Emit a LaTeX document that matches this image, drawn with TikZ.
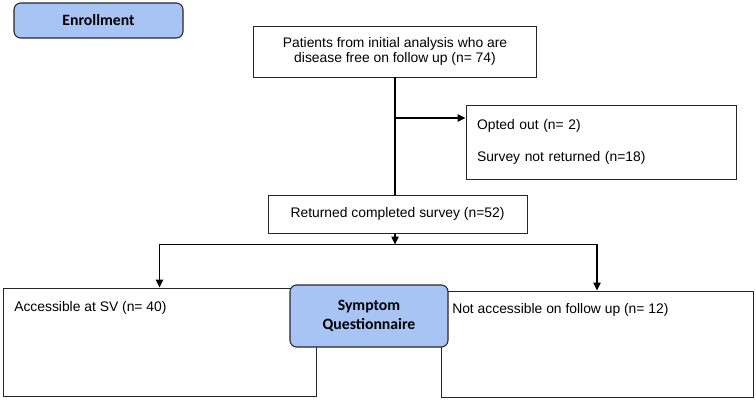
\documentclass[tikz,border=0pt]{standalone}
\usepackage{fontspec}
\setmainfont{Liberation Sans}
\newfontfamily\calibri{Carlito}
\usetikzlibrary{arrows.meta}
\definecolor{headblue}{RGB}{168,196,245}

\begin{document}
\begin{tikzpicture}[x=0.75pt,y=-0.75pt,
		box/.style={draw=black!85,line width=0.7pt,fill=white,inner sep=0pt,font=\fontsize{10.4}{11.8}\selectfont,align=center},
		head/.style={draw=black!85,line width=0.8pt,fill=headblue,rounded corners=5pt,inner sep=0pt,font=\calibri\bfseries\fontsize{11.8}{14}\selectfont,align=center},
		txt/.style={inner sep=0pt,font=\fontsize{10.4}{11.8}\selectfont},
		link/.style={line width=1pt},
		arr/.style={line width=1pt,-{Triangle[length=6pt,width=5.5pt]}}]
				\useasboundingbox (0,0) rectangle (756,400);
				\node[head,minimum width=126.75pt,minimum height=26.25pt] (enroll) at (98.5,20.5) {Enrollment};
				\node[box,minimum width=212.25pt,minimum height=38.25pt] (patients) at (395,51.5) {Patients from initial analysis who are\\disease free on follow up (n= 74)};
				\node[box,minimum width=202.5pt,minimum height=55.5pt,align=left,text width=186pt,inner xsep=8.25pt] (opted) at (601,142) {Opted out (n= 2)\\[12.2pt]Survey not returned (n=18)};
				\node[box,minimum width=194.25pt,minimum height=28.5pt] (returned) at (397.5,214) {Returned completed survey (n=52)};
				\node[box,minimum width=234.75pt,minimum height=81pt] (acc) at (159.5,342) {};
				\node[box,minimum width=234pt,minimum height=79.5pt] (notacc) at (597,344) {};
				\node[txt,anchor=west] (acclabel) at (14,308) {Accessible at SV (n= 40)};
				\node[txt,anchor=west] (notacclabel) at (452,310) {Not accessible on follow up (n= 12)};
				\node[head,minimum width=118.5pt,minimum height=46.5pt] (symptom) at (369,316) {Symptom\\Questionnaire};
				% connectors
				\coordinate (split) at (395,118);
				\coordinate (fork) at (395,244.5);
				\draw[link] (patients.south) -- (patients.south |- returned.north);
				\draw[arr] (split) -- (split -| opted.west);
				\draw[arr] (patients.south |- returned.south) -- (fork);
				\draw[arr] (fork) -| (acc.north);
				\draw[arr] (fork) -| (notacc.north);
			\end{tikzpicture}
\end{document}
